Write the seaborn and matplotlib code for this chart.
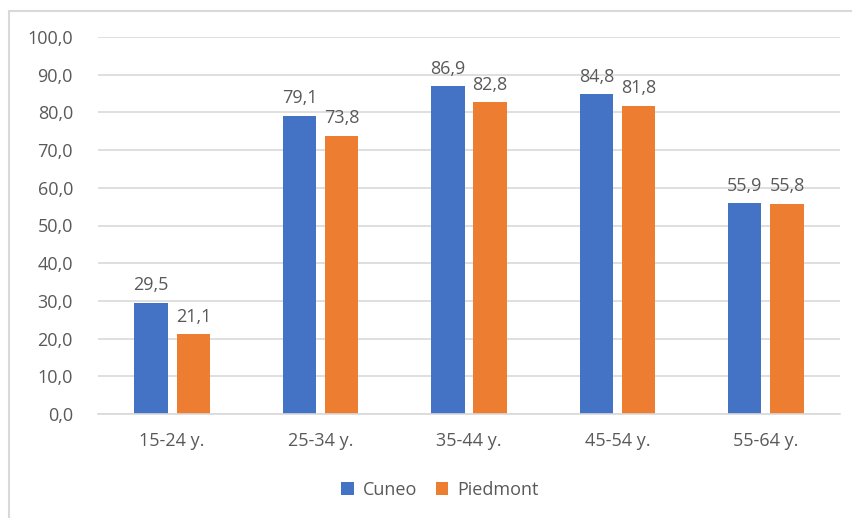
import matplotlib
matplotlib.use("Agg")
import matplotlib.pyplot as plt
import seaborn as sns
import pandas as pd
from matplotlib.lines import Line2D
from matplotlib.patches import Patch

categories = ["15-24 y.", "25-34 y.", "35-44 y.", "45-54 y.", "55-64 y."]
cuneo = [29.5, 79.1, 86.9, 84.8, 55.9]
piedmont = [21.1, 73.8, 82.8, 81.8, 55.8]
series = ["Cuneo", "Piedmont"]
yticks = [0, 10, 20, 30, 40, 50, 60, 70, 80, 90, 100]

colors = ["#4472C4", "#ED7D31"]
text_color = "#595959"
grid_color = "#D9D9D9"

df = pd.DataFrame({
    "Age": categories * 2,
    "Value": cuneo + piedmont,
    "Series": [series[0]] * len(categories) + [series[1]] * len(categories),
})

sns.set_theme(style="white")
plt.rcParams["font.family"] = ["Open Sans", "DejaVu Sans"]

W, H = 852, 518
fig = plt.figure(figsize=(W / 100, H / 100), dpi=100)
ax = fig.add_axes([98 / W, (H - 414) / H, (840 - 98) / W, (414 - 37) / H])

sns.barplot(data=df, x="Age", y="Value", hue="Series", palette=colors,
            width=0.57, gap=0.21, ax=ax, legend=False, saturation=1,
            errorbar=None, linewidth=0, edgecolor="none")

ax.set_ylim(0, 100)
ax.set_xlim(-0.5, len(categories) - 0.5)
ax.set_yticks(yticks)
ax.set_yticklabels([f"{v:.1f}".replace(".", ",") for v in yticks])
ax.set_xlabel("")
ax.set_ylabel("")
ax.yaxis.grid(True, color=grid_color, linewidth=1.2)
ax.set_axisbelow(True)
for s in ["top", "right", "left"]:
    ax.spines[s].set_visible(False)
ax.spines["bottom"].set_color(grid_color)
ax.spines["bottom"].set_linewidth(1.2)
ax.tick_params(axis="y", length=0, pad=18, labelsize=13, labelcolor=text_color)
ax.tick_params(axis="x", length=0, pad=13, labelsize=13, labelcolor=text_color)

for cont, vals in zip(ax.containers, [cuneo, piedmont]):
    ax.bar_label(cont, labels=[f"{v:.1f}".replace(".", ",") for v in vals],
                 padding=6, fontsize=13, color=text_color)

handles = [Patch(facecolor=c, edgecolor="none") for c in colors]
fig.legend(handles, series, loc="center", bbox_to_anchor=(440 / W, 1 - 490 / H),
           ncol=2, frameon=False, handlelength=0.7, handleheight=0.7,
           handletextpad=0.5, columnspacing=1.0, fontsize=13,
           labelcolor=text_color)

# outer chart frame (left and top edges visible)
fig.add_artist(Line2D([8.5 / W, 8.5 / W], [0, 1 - 10.5 / H], color=grid_color,
                      linewidth=1.5, transform=fig.transFigure))
fig.add_artist(Line2D([8.5 / W, 1], [1 - 10.5 / H, 1 - 10.5 / H], color=grid_color,
                      linewidth=1.5, transform=fig.transFigure))

fig.savefig("out.png", dpi=100)
